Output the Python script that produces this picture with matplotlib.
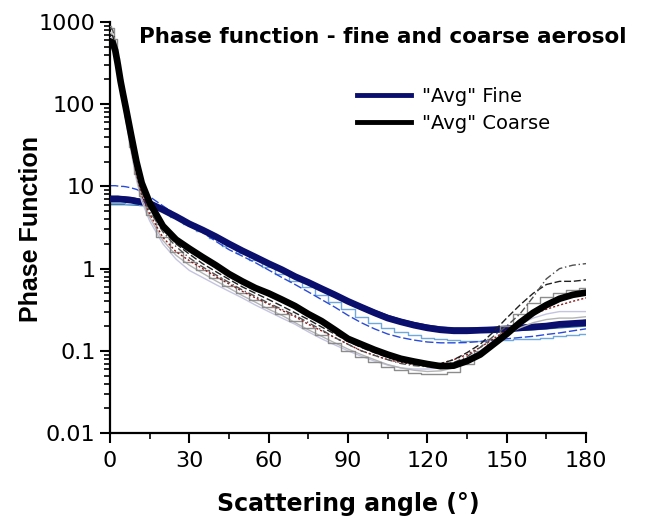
import matplotlib
matplotlib.use("Agg")
import matplotlib.pyplot as plt
from matplotlib.ticker import FixedLocator, LogLocator, NullFormatter, FuncFormatter, MultipleLocator

plt.rcParams['font.family'] = ['DejaVu Sans']

# ---------------- data ----------------
angle = [0, 1, 2, 3, 4, 5, 6, 8, 10, 12, 15, 20, 25, 30, 35, 40, 45, 50, 55, 60,
         65, 70, 75, 80, 85, 90, 95, 100, 105, 110, 115, 120, 125, 130, 135, 140,
         145, 150, 155, 160, 165, 170, 175, 180]

avg_fine = [7.0, 7.0, 7.0, 7.0, 7.0, 6.95, 6.9, 6.8, 6.6, 6.45, 6.2, 5.2, 4.3, 3.5, 2.95, 2.45,
            2.0, 1.65, 1.38, 1.15, 0.97, 0.8, 0.68, 0.57, 0.48, 0.4, 0.34, 0.29, 0.25, 0.225,
            0.205, 0.19, 0.18, 0.175, 0.175, 0.178, 0.18, 0.185, 0.19, 0.195, 0.2, 0.21, 0.215, 0.22]

avg_coarse = [580, 560, 450, 300, 190, 130, 90, 42, 20, 11, 6.3, 3.3, 2.25, 1.75, 1.38, 1.1,
              0.86, 0.7, 0.58, 0.5, 0.42, 0.35, 0.28, 0.23, 0.18, 0.14, 0.12, 0.103, 0.09, 0.08,
              0.074, 0.069, 0.065, 0.066, 0.075, 0.09, 0.12, 0.16, 0.22, 0.29, 0.36, 0.43, 0.48, 0.51]

# individual fine-mode members
fine_blue = [10.2, 10.2, 10.2, 10.1, 10.0, 10.0, 9.9, 9.6, 9.2, 8.6, 7.5, 5.8, 4.5, 3.5, 2.75, 2.15,
             1.7, 1.42, 1.18, 0.96, 0.78, 0.64, 0.52, 0.42, 0.34, 0.27, 0.22, 0.185, 0.16, 0.145,
             0.135, 0.128, 0.125, 0.125, 0.126, 0.13, 0.135, 0.14, 0.145, 0.15, 0.158, 0.165, 0.175, 0.185]
fine_light = [6.2, 6.2, 6.2, 6.2, 6.2, 6.2, 6.15, 6.1, 6.05, 6.0, 5.9, 5.1, 4.2, 3.45, 2.85, 2.35,
              1.9, 1.55, 1.28, 1.05, 0.87, 0.71, 0.59, 0.48, 0.39, 0.32, 0.26, 0.22, 0.19, 0.17,
              0.155, 0.145, 0.14, 0.135, 0.133, 0.133, 0.134, 0.135, 0.138, 0.14, 0.145, 0.15, 0.155, 0.16]
fine_teal = [6.0, 6.0, 6.0, 6.0, 6.0, 6.0, 6.0, 5.95, 5.9, 5.85, 5.8, 5.0, 4.15, 3.45, 2.9, 2.4,
             1.95, 1.6, 1.33, 1.1, 0.93, 0.77, 0.65, 0.54, 0.46, 0.38, 0.32, 0.275, 0.24, 0.215,
             0.195, 0.182, 0.172, 0.168, 0.167, 0.168, 0.17, 0.173, 0.177, 0.18, 0.185, 0.19, 0.195, 0.2]
fine_navy = [7.6, 7.6, 7.6, 7.6, 7.5, 7.5, 7.4, 7.3, 7.1, 6.9, 6.5, 5.4, 4.45, 3.7, 3.1, 2.6,
             2.1, 1.72, 1.43, 1.2, 1.01, 0.84, 0.71, 0.6, 0.5, 0.42, 0.36, 0.31, 0.27, 0.24,
             0.22, 0.205, 0.195, 0.19, 0.19, 0.19, 0.192, 0.195, 0.2, 0.205, 0.21, 0.22, 0.225, 0.235]

# individual coarse-mode members
coarse_dark = [850, 800, 600, 350, 200, 120, 75, 32, 15, 8.5, 5.0, 2.8, 1.85, 1.35, 1.05, 0.84,
               0.68, 0.55, 0.46, 0.38, 0.32, 0.27, 0.22, 0.18, 0.145, 0.12, 0.1, 0.088, 0.078, 0.07,
               0.066, 0.064, 0.066, 0.072, 0.085, 0.11, 0.15, 0.2, 0.28, 0.45, 0.75, 1.0, 1.1, 1.15]
coarse_black = [700, 680, 520, 320, 190, 115, 72, 33, 16, 9.0, 5.4, 3.0, 2.0, 1.5, 1.15, 0.92,
                0.74, 0.6, 0.5, 0.42, 0.35, 0.29, 0.24, 0.195, 0.16, 0.13, 0.11, 0.095, 0.083, 0.075,
                0.07, 0.068, 0.07, 0.078, 0.095, 0.12, 0.17, 0.25, 0.36, 0.5, 0.64, 0.7, 0.7, 0.73]
coarse_brown = [620, 600, 480, 300, 180, 110, 68, 30, 14, 7.8, 4.6, 2.4, 1.6, 1.25, 1.0, 0.8,
                0.65, 0.53, 0.44, 0.37, 0.31, 0.26, 0.21, 0.175, 0.145, 0.12, 0.1, 0.088, 0.078, 0.072,
                0.068, 0.067, 0.07, 0.078, 0.09, 0.11, 0.14, 0.18, 0.23, 0.28, 0.32, 0.36, 0.4, 0.44]
coarse_light = [750, 700, 540, 330, 190, 110, 65, 28, 13, 7.2, 4.2, 2.2, 1.45, 1.1, 0.88, 0.71,
                0.58, 0.47, 0.39, 0.32, 0.27, 0.22, 0.18, 0.15, 0.125, 0.105, 0.09, 0.078, 0.068, 0.062,
                0.058, 0.056, 0.057, 0.062, 0.075, 0.095, 0.125, 0.16, 0.19, 0.22, 0.24, 0.25, 0.25, 0.26]
coarse_lavender = [650, 620, 500, 310, 180, 105, 62, 26, 12, 6.6, 3.8, 2.0, 1.3, 0.95, 0.78, 0.64,
                   0.53, 0.44, 0.36, 0.3, 0.25, 0.21, 0.17, 0.14, 0.118, 0.1, 0.086, 0.075, 0.067, 0.062,
                   0.06, 0.06, 0.062, 0.068, 0.08, 0.1, 0.13, 0.17, 0.21, 0.25, 0.28, 0.3, 0.3, 0.3]
coarse_gray = [900, 850, 620, 360, 200, 115, 70, 30, 14, 7.6, 4.5, 2.4, 1.6, 1.2, 0.95, 0.76,
               0.62, 0.5, 0.41, 0.34, 0.28, 0.23, 0.19, 0.155, 0.125, 0.1, 0.085, 0.073, 0.064, 0.058,
               0.054, 0.052, 0.052, 0.055, 0.07, 0.1, 0.14, 0.2, 0.28, 0.38, 0.45, 0.5, 0.55, 0.58]

x_ticks = [0, 30, 60, 90, 120, 150, 180]
y_ticks = [0.01, 0.1, 1, 10, 100, 1000]
y_tick_labels = ['0.01', '0.1', '1', '10', '100', '1000']

title = 'Phase function - fine and coarse aerosol'
label_fine = '"Avg" Fine'
label_coarse = '"Avg" Coarse'

# ---------------- figure ----------------
fig = plt.figure(figsize=(6.46, 5.2), dpi=100)
ax = fig.add_axes([110 / 646, 1 - 433 / 520, 476 / 646, 411 / 520])

# fine members
ax.plot(angle, fine_navy, color='#1a2a80', lw=1.0, zorder=2)
ax.plot(angle, fine_teal, color='#2f6f9f', lw=1.0, zorder=2)
ax.plot(angle, fine_light, color='#6fa8dc', lw=1.0, zorder=2, drawstyle='steps-mid')
ax.plot(angle, fine_blue, color='#2a4bd7', lw=1.0, ls=(0, (6, 2)), zorder=2)
# fine average
ax.plot(angle, avg_fine, color='#0a0f6e', lw=4.8, zorder=3, label=label_fine)

# coarse members
ax.plot(angle, coarse_lavender, color='#c4c4e0', lw=1.0, zorder=4)
ax.plot(angle, coarse_light, color='#b4b4b4', lw=1.0, zorder=4)
ax.plot(angle, coarse_gray, color='#8c8c8c', lw=1.0, zorder=4, drawstyle='steps-mid')
ax.plot(angle, coarse_brown, color='#8b1a1a', lw=1.0, ls=(0, (1.5, 1.5)), zorder=4)
ax.plot(angle, coarse_black, color='#202020', lw=1.0, ls=(0, (5, 2)), zorder=4)
ax.plot(angle, coarse_dark, color='#505050', lw=1.0, ls=(0, (5, 2, 1, 2)), zorder=4)
# coarse average
ax.plot(angle, avg_coarse, color='black', lw=4.8, zorder=5, label=label_coarse)

ax.set_yscale('log')
ax.set_xlim(0, 180)
ax.set_ylim(0.01, 1000)

ax.xaxis.set_major_locator(FixedLocator(x_ticks))
ax.xaxis.set_minor_locator(MultipleLocator(15))
ax.yaxis.set_major_locator(FixedLocator(y_ticks))
ax.yaxis.set_major_formatter(FuncFormatter(
    lambda v, p: y_tick_labels[y_ticks.index(min(y_ticks, key=lambda t: abs(t - v)))]))
ax.yaxis.set_minor_locator(LogLocator(base=10, subs=range(2, 10)))
ax.yaxis.set_minor_formatter(NullFormatter())

for s in ['top', 'right']:
    ax.spines[s].set_visible(False)
for s in ['left', 'bottom']:
    ax.spines[s].set_linewidth(1.6)

ax.tick_params(axis='both', which='major', direction='out', length=7, width=1.5,
               labelsize=16, pad=3.5)
ax.tick_params(axis='both', which='minor', direction='out', length=4, width=1.2)
ax.tick_params(axis='x', which='major', pad=6)

ax.set_xlabel('Scattering angle (°)', fontsize=17, fontweight='bold')
ax.xaxis.set_label_coords(0.5, (433 - 492) / 411)
ax.set_ylabel('Phase Function', fontsize=18, fontweight='bold',
              family=['Liberation Sans', 'DejaVu Sans'])
ax.yaxis.set_label_coords((43 - 110) / 476, (433 - 229) / 411)

fig.text(139 / 646, 1 - 43 / 520, title, fontsize=15.5, fontweight='bold',
         ha='left', va='baseline')

leg = ax.legend(loc='upper left', bbox_to_anchor=((357 - 110) / 476, (433 - 87) / 411),
                frameon=False, fontsize=14, handlelength=2.8, handletextpad=0.55,
                labelspacing=0.42, borderpad=0, borderaxespad=0)
for h in leg.get_lines():
    h.set_linewidth(3.5)

fig.savefig('out.png', dpi=100)
